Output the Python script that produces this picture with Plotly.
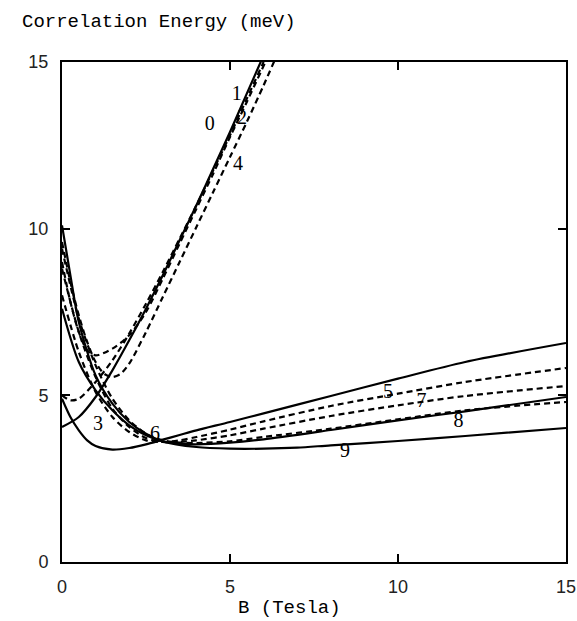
import plotly.graph_objects as go

# Magnetic field grids (Tesla) and correlation energies (meV) per curve
B0 = [0, 0.5, 1, 1.5, 2, 2.5, 3, 3.5, 4, 4.5, 5, 5.5, 6]
E0 = [4.05, 4.35, 4.95, 5.75, 6.65, 7.6, 8.6, 9.65, 10.7, 11.8, 12.9, 14.05, 15.2]

B1 = [0, 0.25, 0.5, 1, 1.5, 2, 2.5, 3, 3.5, 4, 4.5, 5, 5.5, 6]
E1 = [5.0, 4.85, 4.9, 5.4, 6.05, 6.85, 7.75, 8.7, 9.7, 10.7, 11.75, 12.8, 13.9, 15.0]

B2 = [0, 0.25, 0.5, 0.75, 1, 1.5, 2, 2.5, 3, 3.5, 4, 4.5, 5, 5.5, 6.1]
E2 = [9.0, 7.8, 6.9, 6.35, 6.2, 6.4, 6.8, 7.5, 8.5, 9.55, 10.6, 11.65, 12.75, 13.8, 15.1]

B4 = [0, 0.25, 0.5, 0.75, 1, 1.25, 1.5, 1.75, 2, 2.5, 3, 3.5, 4, 4.5, 5, 5.5, 6, 6.35]
E4 = [9.6, 8.4, 7.4, 6.6, 6.0, 5.65, 5.55, 5.65, 5.95, 6.9, 7.95, 9.0, 10.05, 11.1, 12.15, 13.2, 14.3, 15.1]

B3 = [0, 0.25, 0.5, 0.75, 1, 1.5, 2, 2.5, 3, 3.5, 4, 5, 6, 8, 10, 12, 15]
E3 = [4.9, 4.35, 3.95, 3.65, 3.48, 3.37, 3.42, 3.53, 3.67, 3.81, 3.95, 4.2, 4.46, 4.98, 5.5, 6.0, 6.57]

B5 = [0, 0.5, 1, 1.5, 2, 2.5, 3, 3.5, 4, 5, 6, 8, 10, 12, 15]
E5 = [8.0, 6.3, 5.1, 4.35, 3.9, 3.65, 3.6, 3.65, 3.75, 3.97, 4.22, 4.68, 5.05, 5.4, 5.82]

B6 = [0, 0.5, 1, 1.5, 2, 2.5, 3, 3.5, 4, 5, 6, 8, 10, 12, 15]
E6 = [7.6, 6.0, 5.15, 4.55, 4.1, 3.8, 3.62, 3.55, 3.53, 3.58, 3.68, 3.96, 4.25, 4.52, 4.95]

B7 = [0, 0.5, 1, 1.5, 2, 2.5, 3, 3.5, 4, 5, 6, 8, 10, 12, 15]
E7 = [8.8, 6.9, 5.55, 4.6, 4.05, 3.72, 3.6, 3.6, 3.65, 3.8, 4.0, 4.38, 4.7, 4.98, 5.28]

B8 = [0, 0.5, 1, 1.5, 2, 2.5, 3, 3.5, 4, 5, 6, 8, 10, 12, 15]
E8 = [9.4, 7.3, 5.9, 4.9, 4.25, 3.85, 3.65, 3.58, 3.57, 3.62, 3.75, 4.0, 4.28, 4.55, 4.8]

B9 = [0, 0.25, 0.5, 1, 1.5, 2, 2.5, 3, 4, 5, 6, 7, 8, 10, 12, 15]
E9 = [10.1, 8.6, 7.2, 5.6, 4.75, 4.2, 3.85, 3.62, 3.45, 3.4, 3.4, 3.43, 3.5, 3.63, 3.78, 4.02]

solid_curves = [(B0, E0), (B3, E3), (B6, E6), (B9, E9)]
dashed_curves = [(B1, E1), (B2, E2), (B4, E4), (B5, E5), (B7, E7), (B8, E8)]

label_text = ["0", "1", "2", "4", "3", "6", "5", "7", "8", "9"]
label_x = [4.4, 5.2, 5.36, 5.24, 1.07, 2.77, 9.7, 10.7, 11.8, 8.42]
label_y = [13.1, 14.0, 13.3, 11.9, 4.1, 3.8, 5.07, 4.8, 4.2, 3.3]

x_ticks = [0, 5, 10, 15]
y_ticks = [0, 5, 10, 15]

fig = go.Figure()
for bx, ey in solid_curves:
    fig.add_trace(go.Scatter(x=bx, y=ey, mode="lines",
                             line=dict(color="black", width=2.2, shape="spline", smoothing=0.8),
                             hoverinfo="skip", showlegend=False))
for bx, ey in dashed_curves:
    fig.add_trace(go.Scatter(x=bx, y=ey, mode="lines",
                             line=dict(color="black", width=2.2, dash="6px,4px", shape="spline", smoothing=0.8),
                             hoverinfo="skip", showlegend=False))

fig.add_trace(go.Scatter(x=label_x, y=label_y, mode="text", text=label_text,
                         textfont=dict(family="Liberation Serif", size=20, color="black"),
                         hoverinfo="skip", showlegend=False, cliponaxis=False))

axis_common = dict(range=[0, 15], showline=True, linecolor="black", linewidth=2,
                   mirror="ticks", ticks="inside", ticklen=8, tickwidth=1.5, tickcolor="black",
                   showgrid=False, zeroline=False, ticklabeloverflow="allow", automargin=False,
                   tickfont=dict(family="Liberation Sans", size=18, color="#222"))
fig.update_xaxes(tickvals=x_ticks, ticklabelstandoff=7, **axis_common)
fig.update_yaxes(tickvals=y_ticks, ticklabelstandoff=8, **axis_common)

fig.add_annotation(text="Correlation Energy (meV)", xref="paper", yref="paper",
                   x=-0.083, y=1.08, xanchor="left", yanchor="middle", showarrow=False,
                   font=dict(family="Liberation Mono", size=19, color="black"))
fig.add_annotation(text="B (Tesla)", xref="paper", yref="paper",
                   x=0.452, y=-0.092, xanchor="center", yanchor="middle", showarrow=False,
                   font=dict(family="Liberation Mono", size=19, color="black"))

fig.update_layout(width=577, height=621, margin=dict(l=62, r=11, t=62, b=59, autoexpand=False),
                  plot_bgcolor="white", paper_bgcolor="white")

fig.write_html("out.html", config={"displayModeBar": False},
               post_script="document.body.style.margin='0';document.body.style.overflow='hidden';")
